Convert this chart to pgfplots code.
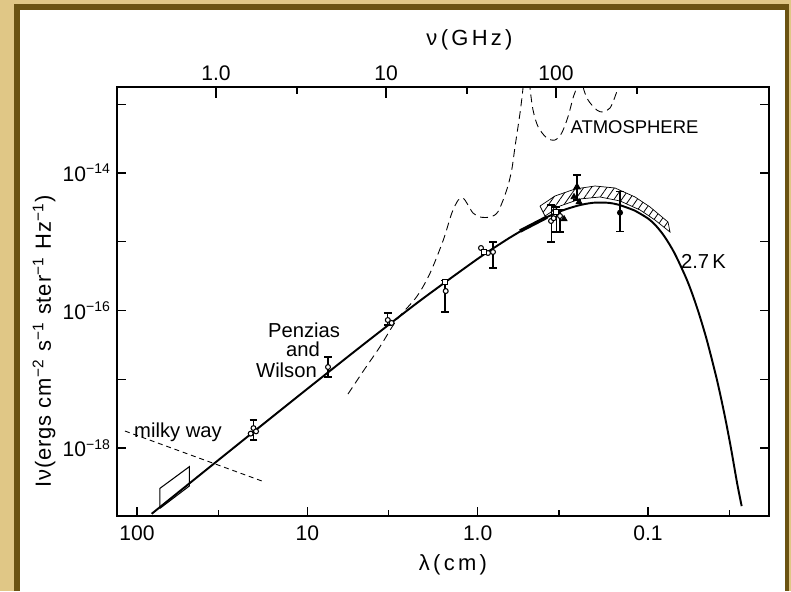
\documentclass[border=0pt]{standalone}
\usepackage{fontspec}
\setmainfont{Liberation Sans}
\usepackage{pgfplots}
\pgfplotsset{compat=1.18}
\usetikzlibrary{patterns.meta}
\definecolor{frametan}{RGB}{224,199,134}
\definecolor{framebrown}{RGB}{107,83,18}

\begin{document}
\begin{tikzpicture}[font=\fontsize{11.5}{13}\selectfont]
\useasboundingbox (0,0) rectangle (15.82,11.82);
% scanned page frame
\fill[frametan] (0,0) rectangle (15.82,11.82);
\fill[framebrown] (0.28,0) rectangle (15.78,11.74);
\fill[white] (0.39,0) rectangle (15.70,11.62);

% top axis: frequency in GHz (placed as drawn in the original figure)
\begin{axis}[
  at={(2.34cm,1.50cm)}, anchor=south west,
  scale only axis, width=13.04cm, height=8.58cm,
  xmode=log, xmin=0.2616, xmax=1790, ymin=0, ymax=1,
  axis line style={draw=none},
  xtick={1,10,100}, xticklabels={1.0,10,100},
  extra x ticks={3,30,300}, extra x tick labels={},
  extra x tick style={major tick length=0.13cm},
  xtick pos=top, xticklabel pos=top,
  ytick=\empty,
  tick align=inside, major tick length=0.21cm,
  minor tick style={draw=none},
  tick style={line width=0.8pt, black},
  xticklabel style={font=\fontsize{12}{14}\selectfont},
]
\addplot[draw=none] coordinates {(1,0.5)};
\end{axis}

% main axis: wavelength in cm
\begin{axis}[
  at={(2.34cm,1.50cm)}, anchor=south west,
  scale only axis, width=13.04cm, height=8.58cm,
  xmode=log, ymode=log, x dir=reverse,
  xmin=0.01949, xmax=131, ymin=1.026e-19, ymax=1.78e-13,
  axis line style={line width=0.9pt},
  xtick={100,10,1,0.1}, xticklabels={100,10,1.0,0.1},
  extra x ticks={33.3,3.33,0.333,0.0333}, extra x tick labels={},
  extra x tick style={major tick length=0.12cm},
  xtick pos=bottom,
  ytick={1e-18,1e-17,1e-16,1e-15,1e-14,1e-13},
  yticklabels={10\textsuperscript{−18},,10\textsuperscript{−16},,10\textsuperscript{−14},},
  tick align=inside, major tick length=0.19cm,
  minor tick style={draw=none},
  tick style={line width=0.8pt, black},
  xticklabel style={font=\fontsize{12}{14}\selectfont, yshift=-2pt},
  yticklabel style={font=\fontsize{12}{14}\selectfont},
  errpt/.style={only marks, line width=0.6pt,
    mark options={fill=white, line width=0.6pt},
    error bars/y dir=both, error bars/y explicit,
    error bars/error mark=-,
    error bars/error bar style={line width=0.6pt},
    error bars/error mark options={rotate=90, mark size=2.2pt, line width=0.7pt, black}},
]
% hatched band
\addplot[line width=0.4pt, pattern={Lines[angle=55, distance=3.6pt, line width=0.45pt]}] coordinates {
  (0.4305,3.31e-15) (0.3516,4.63e-15) (0.2683,5.85e-15) (0.2047,6.47e-15)
  (0.1562,6.05e-15) (0.1192,4.48e-15) (0.0973,3.20e-15) (0.0763,1.937e-15)
  (0.0743,1.386e-15) (0.0910,2.07e-15) (0.1114,2.90e-15) (0.1460,3.92e-15)
  (0.1913,4.48e-15) (0.2507,4.19e-15) (0.3286,3.31e-15) (0.4025,2.368e-15)
  (0.4305,3.31e-15)};

% 2.7 K blackbody
\addplot[smooth, line width=1.1pt] coordinates {
  (82,1.105e-19) (50,2.966e-19) (30,8.21e-19) (20,1.839e-18) (10,7.257e-18)
  (5,2.826e-17) (3,7.570e-17) (2,1.627e-16) (1,5.644e-16) (0.7,1.015e-15)
  (0.6,1.286e-15) (0.5,1.670e-15) (0.4,2.226e-15) (0.35,2.586e-15)
  (0.3,2.998e-15) (0.25,3.423e-15) (0.22,3.633e-15) (0.2,3.717e-15)
  (0.17,3.679e-15) (0.15,3.472e-15) (0.13,3.08e-15) (0.12,2.85e-15)
  (0.1,2.18e-15) (0.09,1.72e-15) (0.08,1.19e-15) (0.07,6.87e-16)
  (0.06,3.04e-16) (0.055,1.75e-16) (0.05,8.7e-17) (0.045,3.6e-17)
  (0.04,1.15e-17) (0.0375,5.7e-18) (0.035,2.52e-18) (0.0325,9.6e-19)
  (0.03,3.1e-19) (0.0282,1.43e-19)};
\addplot[line width=2pt] coordinates {(0.564,1.43e-15) (0.392,2.28e-15)};

% box near 50-70 cm
\addplot[line width=0.6pt] coordinates {
  (73.3,1.327e-19) (73.3,2.594e-19) (49.31,5.346e-19) (49.31,2.80e-19) (73.3,1.327e-19)};

% milky way
\addplot[line width=0.5pt, dash pattern=on 2.8pt off 2.2pt] coordinates {
  (117.6,1.767e-18) (18.45,3.31e-19)};

% atmosphere
\addplot[smooth, line width=0.5pt, dash pattern=on 4.5pt off 2.8pt] coordinates {
  (5.771,6.10e-18) (4.648,1.363e-17) (3.745,2.975e-17) (2.988,7.28e-17)
  (2.280,1.589e-16) (1.905,3.475e-16) (1.591,1.060e-15) (1.420,2.595e-15)
  (1.2995,4.05e-15) (1.214,4.285e-15) (1.139,3.42e-15) (1.065,2.62e-15)
  (0.969,2.29e-15) (0.8467,2.29e-15) (0.7597,2.735e-15) (0.6754,5.66e-15)
  (0.6313,1.106e-14) (0.6036,2.413e-14) (0.5641,7.46e-14) (0.5418,1.723e-13)
  (0.5274,3.72e-13) (0.5063,3.72e-13) (0.4929,1.723e-13) (0.4732,8.25e-14)
  (0.4422,4.72e-14) (0.3934,3.23e-14) (0.3515,3.02e-14) (0.3211,3.82e-14)
  (0.2948,6.59e-14) (0.2756,1.233e-13) (0.2621,1.80e-13) (0.2576,3.15e-13)
  (0.2440,3.15e-13) (0.2406,1.80e-13) (0.2250,1.153e-13) (0.2000,8.25e-14)
  (0.1837,7.71e-14) (0.1671,8.82e-14) (0.1562,1.288e-13) (0.1500,1.80e-13)
  (0.1460,3.15e-13)};

% measurements with error bars
\addplot[errpt, mark=*, mark size=1.4pt] coordinates {
  (20.7,1.95e-18) += (0,0.60e-18) -= (0,0.64e-18)
  (7.56,1.507e-17) += (0,0.60e-17) -= (0,0.43e-17)
  (3.37,7.28e-17) += (0,1.92e-17) -= (0,1.13e-17)
  (0.813,7.1e-16) += (0,2.8e-16) -= (0,2.95e-16)
  (0.371,2.005e-15) += (0,1.425e-15) -= (0,1.015e-15)
  (0.3286,2.37e-15) += (0,0.53e-15) -= (0,0.984e-15)};
\addplot[errpt, mark=square*, mark size=1.5pt] coordinates {
  (1.555,2.60e-16) += (0,0.1e-16) -= (0,1.65e-16)
  (0.3467,2.71e-15) += (0,0.49e-15) -= (0,1.324e-15)};
\addplot[errpt, mark=triangle*, mark size=2pt, mark options={fill=black}] coordinates {
  (0.2611,6.26e-15) += (0,3.09e-15) -= (0,2.21e-15)};
\addplot[errpt, mark=*, mark size=1.4pt, mark options={fill=black}] coordinates {
  (0.146,2.65e-15) += (0,2.69e-15) -= (0,1.25e-15)};
\addplot[only marks, mark=*, mark size=1.4pt, mark options={fill=white, line width=0.6pt}] coordinates {
  (20.0,1.75e-18) (21.5,1.62e-18) (3.2,6.6e-17) (1.54,1.92e-16)
  (0.956,8.11e-16) (0.870,6.86e-16) (0.358,2.2e-15)};
\addplot[only marks, mark=square*, mark size=1.5pt, mark options={fill=white, line width=0.6pt}] coordinates {
  (0.918,7.10e-16)};
\addplot[only marks, mark=triangle*, mark size=2pt, mark options={fill=black}] coordinates {
  (0.311,2.14e-15) (0.2719,4.48e-15) (0.254,3.78e-15)};
\end{axis}

% labels
\node[font=\fontsize{12.5}{14}\selectfont\addfontfeature{LetterSpace=15}] at (9.39,11.03) {ν(GHz)};
\node[font=\fontsize{12.5}{14}\selectfont\addfontfeature{LetterSpace=15}] at (9.06,0.52) {λ(cm)};
\node[rotate=90, font=\fontsize{12.5}{14}\selectfont\addfontfeature{LetterSpace=4}] at (0.88,4.99)
  {Iν(ergs cm\textsuperscript{−2} s\textsuperscript{−1} ster\textsuperscript{−1} Hz\textsuperscript{−1})};
\node[anchor=base, font=\fontsize{10.5}{12}\selectfont] at (12.69,9.16) {ATMOSPHERE};
\node[anchor=base] at (14.07,6.46) {2.7\,K};
\node[anchor=base] at (6.08,5.08) {Penzias};
\node[anchor=base] at (6.06,4.69) {and};
\node[anchor=base] at (5.73,4.28) {Wilson};
\node[anchor=base] at (3.56,3.08) {milky way};
\end{tikzpicture}
\end{document}
